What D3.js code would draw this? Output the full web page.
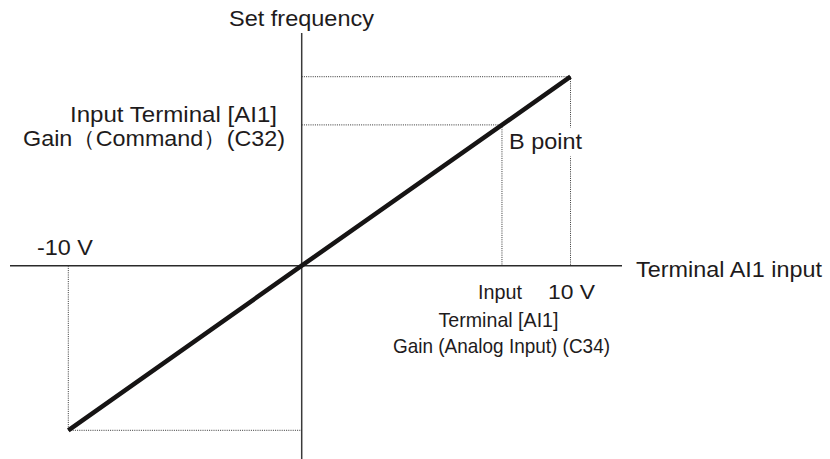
<!DOCTYPE html>
<html>
<head>
<meta charset="utf-8">
<script src="https://cdn.jsdelivr.net/npm/d3@7"></script>
<style>
  html, body { margin: 0; padding: 0; background: #fff; }
  svg { display: block; }
  text { font-family: "Liberation Sans", Arial, Helvetica, sans-serif; fill: #1e1b1c; }
</style>
</head>
<body>
<svg id="chart" width="830" height="459"></svg>
<script>
// Analog input (V) against set frequency (% of max), straight characteristic through the origin
const inputVolts = [-10, 0, 10];
const setFrequency = [-100, 0, 100];
// B point: input gain (C34) and command gain (C32)
const bPointVolts = 7.45;
const bPointFreq = 74.5;

const svg = d3.select("#chart");
const W = 830, H = 459;

// Polylinear scales: the two quadrants are drawn at slightly different spans
const x = d3.scaleLinear().domain([-10, 0, 10]).range([68.3, 301.7, 570.5]);
const y = d3.scaleLinear().domain([-100, 0, 100]).range([430.3, 265.7, 76.7]);

const x0 = x(0), y0 = y(0);

// Axes
svg.append("line")
  .attr("x1", 10).attr("x2", 622).attr("y1", y0).attr("y2", y0)
  .attr("stroke", "#2a2a2a").attr("stroke-width", 1.5);
svg.append("line")
  .attr("x1", x0).attr("x2", x0).attr("y1", 33).attr("y2", H)
  .attr("stroke", "#3a3a3a").attr("stroke-width", 1.5);

// Dotted guide lines
const guide = (x1, y1, x2, y2) => svg.append("line")
  .attr("x1", x1).attr("y1", y1).attr("x2", x2).attr("y2", y2)
  .attr("stroke", "#333").attr("stroke-width", 1)
  .attr("stroke-dasharray", "1,1.2");

const vMax = inputVolts[inputVolts.length - 1], fMax = setFrequency[setFrequency.length - 1];
const vMin = inputVolts[0], fMin = setFrequency[0];

guide(x0, y(fMax), x(vMax), y(fMax));
guide(x(vMax), y(fMax), x(vMax), y0);
guide(x0, y(bPointFreq), x(bPointVolts), y(bPointFreq));
guide(x(bPointVolts), y(bPointFreq), x(bPointVolts), y0);
guide(x(vMin), y(fMin), x0, y(fMin));
guide(x(vMin), y0, x(vMin), y(fMin));

// Characteristic line
const pts = inputVolts.map((v, i) => [v, setFrequency[i]]);
svg.append("path")
  .datum(pts)
  .attr("d", d3.line().x(d => x(d[0])).y(d => y(d[1])))
  .attr("fill", "none")
  .attr("stroke", "#161414")
  .attr("stroke-width", 4.5)
  .attr("stroke-linecap", "butt");

// Label backing for "B point" so the guide line breaks around it
svg.append("rect")
  .attr("x", 506).attr("y", 127.5).attr("width", 80).attr("height", 29)
  .attr("fill", "#fff");

function label(txt, xStart, baseline, size, len) {
  const t = svg.append("text")
    .attr("x", xStart).attr("y", baseline)
    .attr("font-size", size)
    .text(txt);
  if (len) t.attr("textLength", len).attr("lengthAdjust", "spacingAndGlyphs");
  return t;
}

label("Set frequency", 229, 25.5, 21.5, 145);
label("Input Terminal [AI1]", 70, 121.5, 22, 207);
label("Gain\uFF08Command\uFF09(C32)", 23, 146, 22, 262);
label("-10 V", 37, 254.5, 22, 56);
label("B point", 509, 148.5, 22.5, 73);
label("Terminal AI1 input", 636, 276.5, 21.5, 186);

label("Input", 478, 299, 21, 44);
label("10 V", 548, 299, 21, 47);
label("Terminal [AI1]", 438.5, 326.5, 21, 120);
label("Gain (Analog Input) (C34)", 393, 352.5, 21, 217);
</script>
</body>
</html>
